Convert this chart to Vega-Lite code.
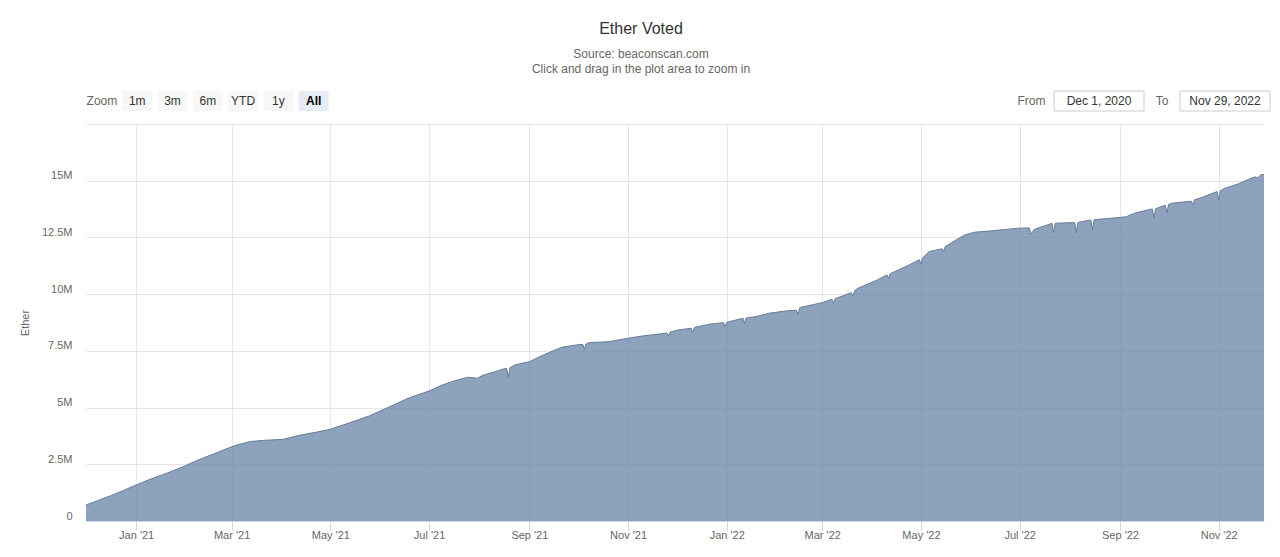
{
  "$schema": "https://vega.github.io/schema/vega-lite/v6.json",
  "background": "white",
  "padding": {"left": 19, "top": 20, "right": 5, "bottom": 5},
  "config": {"font": "Liberation Sans", "view": {"stroke": null}},
  "title": {
    "text": "Ether Voted",
    "subtitle": ["Source: beaconscan.com", "Click and drag in the plot area to zoom in"],
    "fontSize": 16, "fontWeight": "normal", "color": "#333333", "font": "Liberation Sans",
    "subtitleFontSize": 12, "subtitleColor": "#666666", "subtitleFont": "Liberation Sans",
    "subtitlePadding": 12, "subtitleLineHeight": 15.7, "offset": 15, "dx": -4, "anchor": "middle"
  },
  "spacing": 1,
  "vconcat": [
    {
      "spacing": 3,
      "hconcat": [
        {
          "width": 924, "height": 20,
          "data": {"values": [
            {"label": "Zoom", "role": "label", "selected": false},
            {"label": "1m", "role": "button", "selected": false},
            {"label": "3m", "role": "button", "selected": false},
            {"label": "6m", "role": "button", "selected": false},
            {"label": "YTD", "role": "button", "selected": false},
            {"label": "1y", "role": "button", "selected": false},
            {"label": "All", "role": "button", "selected": true}
          ]},
          "encoding": {"x": {"field": "label", "type": "nominal", "axis": null,
            "scale": {"type": "band", "domain": ["Zoom", "1m", "3m", "6m", "YTD", "1y", "All"], "range": [-1.7, 245.3], "paddingInner": 0.15, "paddingOuter": 0.075}}},
          "layer": [
            {"transform": [{"filter": "datum.role == 'button'"}], "mark": {"type": "bar"},
             "encoding": {"color": {"condition": {"test": "datum.selected", "value": "#e6ebf5"}, "value": "#f7f7f7"}}},
            {"transform": [{"filter": "!datum.selected"}], "mark": {"type": "text", "fontSize": 12},
             "encoding": {"text": {"field": "label"}, "color": {"condition": {"test": "datum.role == 'label'", "value": "#666666"}, "value": "#333333"}}},
            {"transform": [{"filter": "datum.selected"}], "mark": {"type": "text", "fontSize": 12, "fontWeight": "bold", "color": "#000000"},
             "encoding": {"text": {"field": "label"}}}
          ]
        },
        {
          "width": 37, "height": 20,
          "data": {"values": [{"label": "From"}]},
          "mark": {"type": "text", "fontSize": 12, "color": "#666666"},
          "encoding": {"text": {"field": "label"}}
        },
        {
          "width": 90, "height": 20,
          "data": {"values": [{"value": "Dec 1, 2020"}]},
          "encoding": {"x": {"field": "value", "type": "nominal", "axis": null, "scale": {"paddingInner": 0, "paddingOuter": 0}}},
          "layer": [
            {"mark": {"type": "bar", "fill": "white", "stroke": "#cccccc", "strokeWidth": 1}},
            {"mark": {"type": "text", "fontSize": 12, "color": "#333333"}, "encoding": {"text": {"field": "value"}}}
          ]
        },
        {
          "width": 28, "height": 20,
          "data": {"values": [{"label": "To"}]},
          "mark": {"type": "text", "fontSize": 12, "color": "#666666"},
          "encoding": {"text": {"field": "label"}}
        },
        {
          "width": 90, "height": 20,
          "data": {"values": [{"value": "Nov 29, 2022"}]},
          "encoding": {"x": {"field": "value", "type": "nominal", "axis": null, "scale": {"paddingInner": 0, "paddingOuter": 0}}},
          "layer": [
            {"mark": {"type": "bar", "fill": "white", "stroke": "#cccccc", "strokeWidth": 1}},
            {"mark": {"type": "text", "fontSize": 12, "color": "#333333"}, "encoding": {"text": {"field": "value"}}}
          ]
        }
      ]
    },
    {
      "width": 1178, "height": 397,
      "data": {"values": [
        {"date": "2020/12/01", "ether": 705000},
        {"date": "2020/12/08", "ether": 890000},
        {"date": "2020/12/16", "ether": 1110000},
        {"date": "2020/12/24", "ether": 1340000},
        {"date": "2021/01/01", "ether": 1587000},
        {"date": "2021/01/10", "ether": 1850000},
        {"date": "2021/01/20", "ether": 2110000},
        {"date": "2021/01/30", "ether": 2394000},
        {"date": "2021/02/08", "ether": 2680000},
        {"date": "2021/02/17", "ether": 2930000},
        {"date": "2021/02/25", "ether": 3161000},
        {"date": "2021/03/04", "ether": 3351000},
        {"date": "2021/03/08", "ether": 3420000},
        {"date": "2021/03/12", "ether": 3497000},
        {"date": "2021/03/20", "ether": 3550000},
        {"date": "2021/04/02", "ether": 3602000},
        {"date": "2021/04/12", "ether": 3779000},
        {"date": "2021/04/22", "ether": 3911000},
        {"date": "2021/05/01", "ether": 4043000},
        {"date": "2021/05/12", "ether": 4308000},
        {"date": "2021/05/25", "ether": 4630000},
        {"date": "2021/06/06", "ether": 5013000},
        {"date": "2021/06/18", "ether": 5410000},
        {"date": "2021/07/01", "ether": 5732000},
        {"date": "2021/07/09", "ether": 5990000},
        {"date": "2021/07/17", "ether": 6186000},
        {"date": "2021/07/25", "ether": 6336000},
        {"date": "2021/07/31", "ether": 6292000},
        {"date": "2021/08/03", "ether": 6420000},
        {"date": "2021/08/11", "ether": 6583000},
        {"date": "2021/08/16", "ether": 6702000},
        {"date": "2021/08/18", "ether": 6720000},
        {"date": "2021/08/19", "ether": 6336000},
        {"date": "2021/08/20", "ether": 6760000},
        {"date": "2021/08/23", "ether": 6878000},
        {"date": "2021/09/01", "ether": 7024000},
        {"date": "2021/09/07", "ether": 7230000},
        {"date": "2021/09/13", "ether": 7421000},
        {"date": "2021/09/21", "ether": 7659000},
        {"date": "2021/09/30", "ether": 7760000},
        {"date": "2021/10/04", "ether": 7790000},
        {"date": "2021/10/05", "ether": 7571000},
        {"date": "2021/10/06", "ether": 7800000},
        {"date": "2021/10/08", "ether": 7862000},
        {"date": "2021/10/20", "ether": 7906000},
        {"date": "2021/11/01", "ether": 8056000},
        {"date": "2021/11/10", "ether": 8157000},
        {"date": "2021/11/24", "ether": 8276000},
        {"date": "2021/11/25", "ether": 8290000},
        {"date": "2021/11/26", "ether": 8157000},
        {"date": "2021/11/27", "ether": 8330000},
        {"date": "2021/12/02", "ether": 8422000},
        {"date": "2021/12/10", "ether": 8497000},
        {"date": "2021/12/11", "ether": 8302000},
        {"date": "2021/12/12", "ether": 8530000},
        {"date": "2021/12/21", "ether": 8673000},
        {"date": "2021/12/30", "ether": 8744000},
        {"date": "2021/12/31", "ether": 8567000},
        {"date": "2022/01/01", "ether": 8760000},
        {"date": "2022/01/11", "ether": 8937000},
        {"date": "2022/01/12", "ether": 8717000},
        {"date": "2022/01/13", "ether": 8950000},
        {"date": "2022/01/19", "ether": 9008000},
        {"date": "2022/01/27", "ether": 9158000},
        {"date": "2022/02/08", "ether": 9273000},
        {"date": "2022/02/13", "ether": 9290000},
        {"date": "2022/02/14", "ether": 9083000},
        {"date": "2022/02/15", "ether": 9400000},
        {"date": "2022/02/16", "ether": 9423000},
        {"date": "2022/03/01", "ether": 9625000},
        {"date": "2022/03/07", "ether": 9775000},
        {"date": "2022/03/08", "ether": 9599000},
        {"date": "2022/03/09", "ether": 9800000},
        {"date": "2022/03/19", "ether": 10066000},
        {"date": "2022/03/20", "ether": 9890000},
        {"date": "2022/03/21", "ether": 10150000},
        {"date": "2022/03/23", "ether": 10260000},
        {"date": "2022/04/04", "ether": 10626000},
        {"date": "2022/04/10", "ether": 10850000},
        {"date": "2022/04/11", "ether": 10700000},
        {"date": "2022/04/12", "ether": 10900000},
        {"date": "2022/04/17", "ether": 11067000},
        {"date": "2022/04/24", "ether": 11300000},
        {"date": "2022/04/30", "ether": 11520000},
        {"date": "2022/05/01", "ether": 11318000},
        {"date": "2022/05/02", "ether": 11600000},
        {"date": "2022/05/06", "ether": 11874000},
        {"date": "2022/05/14", "ether": 12000000},
        {"date": "2022/05/15", "ether": 11880000},
        {"date": "2022/05/16", "ether": 12095000},
        {"date": "2022/05/20", "ether": 12271000},
        {"date": "2022/05/28", "ether": 12610000},
        {"date": "2022/06/03", "ether": 12729000},
        {"date": "2022/06/13", "ether": 12787000},
        {"date": "2022/06/30", "ether": 12906000},
        {"date": "2022/07/07", "ether": 12919000},
        {"date": "2022/07/08", "ether": 12641000},
        {"date": "2022/07/10", "ether": 12853000},
        {"date": "2022/07/18", "ether": 13051000},
        {"date": "2022/07/21", "ether": 13120000},
        {"date": "2022/07/22", "ether": 12712000},
        {"date": "2022/07/23", "ether": 13126000},
        {"date": "2022/08/04", "ether": 13153000},
        {"date": "2022/08/05", "ether": 12712000},
        {"date": "2022/08/06", "ether": 13160000},
        {"date": "2022/08/14", "ether": 13272000},
        {"date": "2022/08/15", "ether": 12831000},
        {"date": "2022/08/16", "ether": 13280000},
        {"date": "2022/08/31", "ether": 13373000},
        {"date": "2022/09/05", "ether": 13417000},
        {"date": "2022/09/10", "ether": 13567000},
        {"date": "2022/09/20", "ether": 13743000},
        {"date": "2022/09/21", "ether": 13750000},
        {"date": "2022/09/22", "ether": 13347000},
        {"date": "2022/09/23", "ether": 13760000},
        {"date": "2022/09/28", "ether": 13902000},
        {"date": "2022/09/29", "ether": 13910000},
        {"date": "2022/09/30", "ether": 13567000},
        {"date": "2022/10/01", "ether": 13950000},
        {"date": "2022/10/03", "ether": 14008000},
        {"date": "2022/10/13", "ether": 14079000},
        {"date": "2022/10/15", "ether": 14100000},
        {"date": "2022/10/16", "ether": 13933000},
        {"date": "2022/10/17", "ether": 14154000},
        {"date": "2022/10/23", "ether": 14299000},
        {"date": "2022/10/31", "ether": 14520000},
        {"date": "2022/11/01", "ether": 14154000},
        {"date": "2022/11/02", "ether": 14560000},
        {"date": "2022/11/05", "ether": 14669000},
        {"date": "2022/11/13", "ether": 14859000},
        {"date": "2022/11/21", "ether": 15110000},
        {"date": "2022/11/24", "ether": 15170000},
        {"date": "2022/11/25", "ether": 15120000},
        {"date": "2022/11/27", "ether": 15256000},
        {"date": "2022/11/29", "ether": 15278000}
      ]},
      "mark": {"type": "area", "fill": "#6783a7", "fillOpacity": 0.75, "line": {"color": "#687c98", "strokeWidth": 1}},
      "encoding": {
        "x": {"field": "date", "type": "temporal", "scale": {"nice": false},
          "axis": {
            "values": [
              {"year": 2021, "month": 1, "date": 1}, {"year": 2021, "month": 3, "date": 1},
              {"year": 2021, "month": 5, "date": 1}, {"year": 2021, "month": 7, "date": 1},
              {"year": 2021, "month": 9, "date": 1}, {"year": 2021, "month": 11, "date": 1},
              {"year": 2022, "month": 1, "date": 1}, {"year": 2022, "month": 3, "date": 1},
              {"year": 2022, "month": 5, "date": 1}, {"year": 2022, "month": 7, "date": 1},
              {"year": 2022, "month": 9, "date": 1}, {"year": 2022, "month": 11, "date": 1}
            ],
            "format": "%b '%y", "title": null,
            "labelColor": "#666666", "labelFontSize": 11, "labelPadding": -1,
            "tickColor": "#ccd6eb", "tickSize": 9, "domainColor": "#ccd6eb",
            "grid": true, "gridColor": "#e6e6e6", "labelOverlap": false, "labelFlush": false
          }},
        "y": {"field": "ether", "type": "quantitative", "scale": {"domain": [0, 17500000], "nice": false},
          "axis": {
            "values": [0, 2500000, 5000000, 7500000, 10000000, 12500000, 15000000, 17500000],
            "labelExpr": "datum.value == 0 ? '0' : (datum.value >= 17500000 ? '' : format(datum.value / 1000000, '~g') + 'M')",
            "title": "Ether", "titleColor": "#666666", "titleFontSize": 11, "titleFontWeight": "normal",
            "titlePadding": 11.5, "labelColor": "#666666", "labelFontSize": 11, "labelPadding": 14,
            "ticks": false, "domain": false, "grid": true, "gridColor": "#e6e6e6",
            "minExtent": 44, "maxExtent": 44, "labelBaseline": "alphabetic", "labelOffset": -2, "labelOverlap": false
          }}
      }
    }
  ]
}
